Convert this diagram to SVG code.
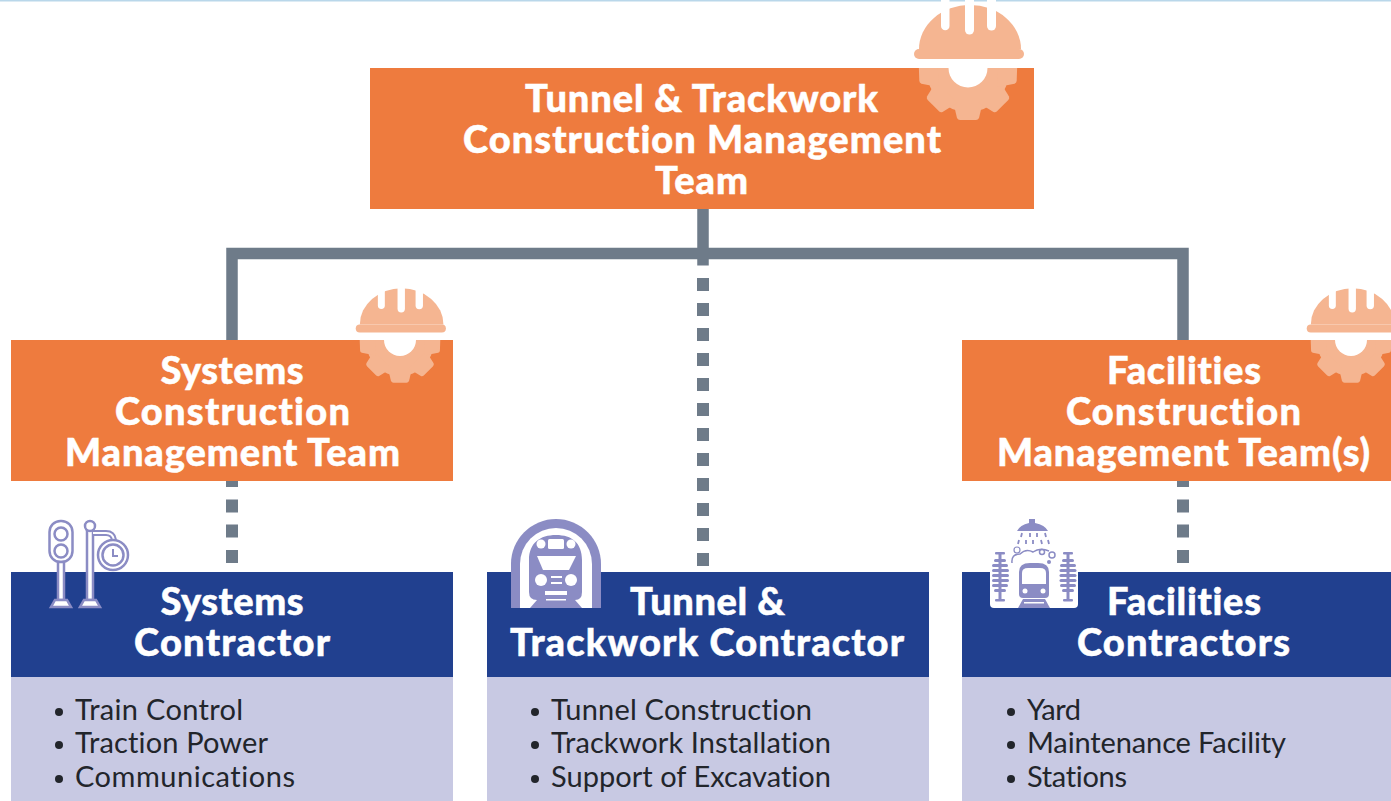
<svg xmlns="http://www.w3.org/2000/svg" xmlns:xlink="http://www.w3.org/1999/xlink" width="1391" height="801" viewBox="0 0 1391 801">
<style>
.o{fill:#ee7b3e}.b{fill:#21408f}.l{fill:#c8c9e3}
.t{font-family:Lato,"Open Sans",sans-serif;font-weight:900;font-size:38px;font-variant-ligatures:none;fill:#fff;stroke:#fff;stroke-width:.5;text-anchor:middle}
.i{font-family:Lato,"Open Sans",sans-serif;font-weight:400;font-size:29px;font-variant-ligatures:none;fill:#22252b}
.u{fill:#22252b}
.c{stroke:#6e7b89;stroke-width:11.500;fill:none}
.d{fill:#6e7b89}
.m{fill:#8b8cc4}.s{fill:#fff;stroke:#8b8cc4;stroke-width:2.500}
.h{fill:#f5b591}
</style>
<defs>
<clipPath id="gc"><rect x="-70" y="0" width="140" height="70"/></clipPath>
<g id="hat">
<g clip-path="url(#gc)">
<circle cy="3" r="41" class="h"/>
<g class="h" transform="translate(0 3)">
<path d="M-15 30L-11 47Q-10 49-8 49H8Q10 49 11 47L15 30Z"/>
<path d="M-15 30L-11 47Q-10 49-8 49H8Q10 49 11 47L15 30Z" transform="rotate(45)"/>
<path d="M-15 30L-11 47Q-10 49-8 49H8Q10 49 11 47L15 30Z" transform="rotate(-45)"/>
<path d="M-15 30L-11 47Q-10 49-8 49H8Q10 49 11 47L15 30Z" transform="rotate(88)"/>
<path d="M-15 30L-11 47Q-10 49-8 49H8Q10 49 11 47L15 30Z" transform="rotate(-88)"/>
</g>
<circle r="19.500" cy="0" fill="#fff"/>
</g>
<path class="h" d="M-49-19A51 44 0 0 1 53-19Z"/>
<rect class="h" x="-54" y="-19" width="110" height="10" rx="5"/>
<g fill="#fff">
<path d="M-27-70h8.500v28a4.250 4.250 0 0 1-8.500 0Z"/>
<path d="M-3-70h9v32a4.500 4.500 0 0 1-9 0Z"/>
<path d="M19-70h9v28a4.500 4.500 0 0 1-9 0Z"/>
</g>
</g>
</defs>

<rect x="0" y="0" width="1391" height="1.500" fill="#b9d7ea"/>

<g id="connectors">
<path class="c" d="M703 209V265.500M232 340V253.500H1183V340"/>
<g class="d">
<rect x="697" y="278" width="12" height="13"/><rect x="697" y="303" width="12" height="13"/><rect x="697" y="328" width="12" height="13"/><rect x="697" y="353" width="12" height="13"/><rect x="697" y="378" width="12" height="13"/><rect x="697" y="403" width="12" height="13"/><rect x="697" y="428" width="12" height="13"/><rect x="697" y="453" width="12" height="13"/><rect x="697" y="478" width="12" height="13"/><rect x="697" y="503" width="12" height="13"/><rect x="697" y="528" width="12" height="13"/><rect x="697" y="553" width="12" height="13"/>
<rect x="226" y="481" width="12" height="6"/><rect x="226" y="499.500" width="12" height="13"/><rect x="226" y="524.500" width="12" height="13"/><rect x="226" y="550" width="12" height="13"/>
<rect x="1177" y="481" width="12" height="6"/><rect x="1177" y="499.500" width="12" height="13"/><rect x="1177" y="524.500" width="12" height="13"/><rect x="1177" y="550" width="12" height="13"/>
</g>
</g>

<g id="top-team">
<rect class="o" x="370" y="68" width="664" height="141"/>
<use xlink:href="#hat" href="#hat" x="968" y="68"/>
<text class="t" x="701.500" y="112" textLength="353">Tunnel &amp; Trackwork</text>
<text class="t" x="702" y="153" textLength="478">Construction Management</text>
<text class="t" x="701.500" y="194" textLength="93">Team</text>
</g>

<g id="systems-team">
<rect class="o" x="11" y="340" width="442" height="141"/>
<use xlink:href="#hat" href="#hat" transform="translate(400 340) scale(.82)"/>
<text class="t" x="232" y="384" textLength="143">Systems</text>
<text class="t" x="232.500" y="425" textLength="235">Construction</text>
<text class="t" x="232.500" y="466" textLength="335">Management Team</text>
</g>

<g id="facilities-team">
<rect class="o" x="962" y="340" width="429" height="141"/>
<use xlink:href="#hat" href="#hat" transform="translate(1351 340) scale(.82)"/>
<text class="t" x="1184" y="384" textLength="154">Facilities</text>
<text class="t" x="1183.500" y="425" textLength="235">Construction</text>
<text class="t" x="1183.500" y="466" textLength="373">Management Team(s)</text>
</g>

<g id="systems-contractor">
<rect class="l" x="11" y="677" width="442" height="124"/>
<rect class="b" x="11" y="572" width="442" height="105"/>
<g id="signal-icon">
<rect class="s" x="49.500" y="521" width="23" height="41" rx="11"/>
<circle class="s" cx="61" cy="534" r="6.500"/>
<circle class="s" cx="61" cy="551" r="6.500"/>
<rect class="s" x="58" y="562" width="6" height="38"/>
<path class="s" d="M55 600H67L71 607H51Z"/>
<rect class="s" x="87" y="530" width="6" height="70"/>
<circle class="s" cx="90" cy="526" r="5"/>
<path d="M93 533H106Q113 533 114 540" fill="none" stroke="#8b8cc4" stroke-width="6"/>
<path d="M93 533H106Q113 533 114 540" fill="none" stroke="#fff" stroke-width="2"/>
<path class="s" d="M84 600H96L100 607H80Z"/>
<circle class="s" cx="113" cy="555" r="15"/>
<circle class="s" cx="113" cy="555" r="10.500"/>
<path d="M113 549V556H118" fill="none" stroke="#8b8cc4" stroke-width="2"/>
</g>
<text class="t" x="232" y="615" textLength="143">Systems</text>
<text class="t" x="232" y="656" textLength="196">Contractor</text>
<circle cx="59" cy="712" r="4" class="u"/><circle cx="59" cy="745" r="4" class="u"/><circle cx="59" cy="779" r="4" class="u"/>
<text class="i" x="75" y="720" textLength="168">Train Control</text>
<text class="i" x="75" y="753" textLength="193">Traction Power</text>
<text class="i" x="75" y="787" textLength="220">Communications</text>
</g>

<g id="tunnel-contractor">
<rect class="l" x="487" y="677" width="442" height="124"/>
<rect class="b" x="487" y="572" width="442" height="105"/>
<g id="train-icon">
<path class="m" d="M511 608V564a45 45 0 0 1 90 0V608Z"/>
<path fill="#fff" d="M520 608V564a36 36 0 0 1 72 0V608Z"/>
<path class="m" d="M529 560C529 543 540 535 556 535S582 543 582 560V592Q582 600 575 600L582 608H530L537 600Q529 600 529 592Z"/>
<g fill="#fff">
<circle cx="541" cy="544" r="4.500"/><circle cx="571" cy="544" r="4.500"/>
<rect x="548" y="539" width="16" height="10" rx="1.500"/>
<path d="M537 556H576L569 570H543Z"/>
<circle cx="541" cy="580" r="6"/><circle cx="571" cy="580" r="6"/>
<rect x="551" y="576" width="11" height="2"/><rect x="551" y="582" width="11" height="2"/>
<rect x="545" y="591" width="22" height="4"/><rect x="546" y="599" width="20" height="1.500"/>
</g>
</g>
<text class="t" x="707.500" y="615" textLength="155">Tunnel &amp;</text>
<text class="t" x="707" y="656" textLength="394">Trackwork Contractor</text>
<circle cx="535" cy="712" r="4" class="u"/><circle cx="535" cy="745" r="4" class="u"/><circle cx="535" cy="779" r="4" class="u"/>
<text class="i" x="551" y="720" textLength="261">Tunnel Construction</text>
<text class="i" x="551" y="753" textLength="280">Trackwork Installation</text>
<text class="i" x="551" y="787" textLength="280">Support of Excavation</text>
</g>

<g id="facilities-contractor">
<rect class="l" x="962" y="677" width="429" height="124"/>
<rect class="b" x="962" y="572" width="429" height="105"/>
<g id="wash-icon">
<rect x="990" y="560" width="88" height="48" rx="4" fill="#fff"/>
<path class="m" d="M1017 531Q1020 525 1029 523V519H1035V523Q1045 525 1048 531Z"/>
<path d="M1022 533l-1 4M1030 533v4M1037 533v4M1045 533l1 4M1019 540l-1 4M1026 540v4M1033 540v4M1041 540l1 4M1048 540l1 4" stroke="#8b8cc4" stroke-width="1.800" fill="none"/>
<path d="M1012 563Q1011 554 1020 554Q1026 548 1033 552Q1040 547 1049 551" stroke="#8b8cc4" stroke-width="1.500" fill="none"/>
<circle cx="1017" cy="550" r="3" fill="#fff" stroke="#8b8cc4" stroke-width="1.200"/>
<circle cx="1042" cy="552" r="2.500" fill="#fff" stroke="#8b8cc4" stroke-width="1.500"/>
<circle cx="1052" cy="555" r="3" fill="#fff" stroke="#8b8cc4" stroke-width="1.500"/>
<circle cx="1049" cy="562" r="2" class="m"/>
<g class="m">
<rect x="995" y="552" width="10" height="2.500" rx="1"/><rect x="998.500" y="553" width="3" height="48"/>
<rect x="994" y="559" width="12" height="3" rx="1.500"/><rect x="992" y="564" width="16" height="3" rx="1.500"/><rect x="992" y="569" width="17" height="3" rx="1.500"/><rect x="992" y="574" width="17" height="3" rx="1.500"/><rect x="992" y="579" width="17" height="3" rx="1.500"/><rect x="992" y="584" width="16" height="3" rx="1.500"/><rect x="994" y="589" width="12" height="3" rx="1.500"/><rect x="995" y="599" width="10" height="2.500" rx="1"/>
</g>
<g class="m">
<rect x="1063" y="552" width="10" height="2.500" rx="1"/><rect x="1066.500" y="553" width="3" height="48"/>
<rect x="1062" y="559" width="12" height="3" rx="1.500"/><rect x="1060" y="564" width="16" height="3" rx="1.500"/><rect x="1059.500" y="569" width="17" height="3" rx="1.500"/><rect x="1059.500" y="574" width="17" height="3" rx="1.500"/><rect x="1059.500" y="579" width="17" height="3" rx="1.500"/><rect x="1060" y="584" width="16" height="3" rx="1.500"/><rect x="1062" y="589" width="12" height="3" rx="1.500"/><rect x="1063" y="599" width="10" height="2.500" rx="1"/>
</g>
<path class="m" d="M1019 572Q1019 563 1030 563H1038Q1049 563 1049 572V594Q1049 598 1045 598H1023Q1019 598 1019 594Z"/>
<path fill="#fff" d="M1022 573Q1022 568 1028 568H1040Q1046 568 1046 573V584H1022Z"/>
<circle cx="1025" cy="591" r="2.500" fill="#fff"/><circle cx="1043" cy="591" r="2.500" fill="#fff"/>
<path class="m" d="M1023 599H1045L1050 608H1018Z"/>
<rect x="1024" y="602" width="20" height="1.500" fill="#fff"/>
</g>
<text class="t" x="1184" y="615" textLength="154">Facilities</text>
<text class="t" x="1183.500" y="656" textLength="213">Contractors</text>
<circle cx="1011" cy="712" r="4" class="u"/><circle cx="1011" cy="745" r="4" class="u"/><circle cx="1011" cy="779" r="4" class="u"/>
<text class="i" x="1027" y="720" textLength="54">Yard</text>
<text class="i" x="1027" y="753" textLength="259">Maintenance Facility</text>
<text class="i" x="1027" y="787" textLength="100">Stations</text>
</g>
</svg>
